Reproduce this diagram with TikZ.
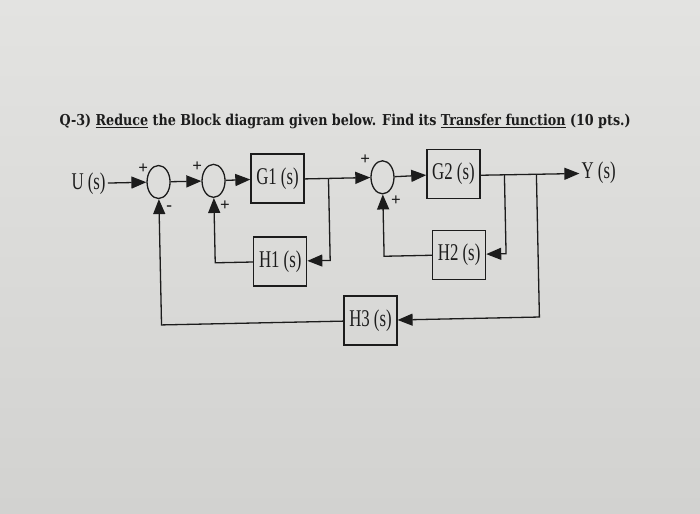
\documentclass[tikz,border=0pt]{standalone}
\usepackage{fontspec}
\setmainfont{Liberation Serif}
\newfontfamily\titlefont{DejaVu Serif}
\usetikzlibrary{arrows.meta, positioning, shapes.geometric}
\definecolor{bpaper}{HTML}{E3E3E1}
\definecolor{bpaperlow}{HTML}{D2D2D0}
\definecolor{bink}{HTML}{1C1C1C}
\newcommand{\blbl}[1]{\scalebox{0.7}[1]{#1}}
\tikzset{
  blk/.style={draw=bink, line width=1.3pt, minimum width=53pt, minimum height=49pt,
              inner sep=0pt, font=\fontsize{24}{24}\selectfont, text=bink},
  sumj/.style={draw=bink, line width=1.3pt, ellipse, minimum width=23pt,
               minimum height=33pt, inner sep=0pt},
  sgn/.style={font=\fontsize{17}{17}\selectfont\bfseries, text=bink, inner sep=0pt},
  sig/.style={font=\fontsize{24}{24}\selectfont, text=bink, inner sep=2pt},
  arr/.style={-{Triangle[length=15pt,width=12pt]}, line width=1.3pt, bink},
  wire/.style={line width=1.3pt, bink},
}

\begin{document}
\begin{tikzpicture}[x=1pt, y=-1pt]
  \shade[top color=bpaper, bottom color=bpaperlow] (0,0) rectangle (700,513);
  \useasboundingbox (0,0) rectangle (700,513);
  \begin{scope}[rotate around={1.2:(350,250)}]
    \node[anchor=base west, inner sep=0pt, text=bink] (title) at (62,119)
      {\resizebox{571pt}{!}{\scalebox{1}[1.18]{\titlefont\bfseries Q-3) \underline{Reduce} the Block diagram given below. Find its \underline{Transfer function} (10 pts.)}}};

    % forward path
    \node[sig] (u) at (90,178) {\blbl{U (s)}};
    \node[sumj] (s1) at (160,178) {};
    \node[sumj] (s2) at (215,178) {};
    \node[blk] (g1) at (279,177) {\blbl{G1 (s)}};
    \node[sumj] (s3) at (384,178) {};
    \node[blk] (g2) at (455,176) {\blbl{G2 (s)}};
    \node[sig, anchor=west] (y) at (581,178) {\blbl{Y (s)}};

    % feedback blocks
    \node[blk] (h1) at (280,260) {\blbl{H1 (s)}};
    \node[blk] (h2) at (459,257) {\blbl{H2 (s)}};
    \node[blk] (h3) at (369,321) {\blbl{H3 (s)}};

    % signs
    \node[sgn] (p1a) at (145,164) {+};
    \node[sgn] (p1b) at (170,204) {-};
    \node[sgn] (p2a) at (199,164) {+};
    \node[sgn] (p2b) at (226,203) {+};
    \node[sgn] (p3a) at (367,160) {+};
    \node[sgn] (p3b) at (397,202) {+};

    \coordinate (t1) at (330,178);
    \coordinate (t2) at (506,178);
    \coordinate (t3) at (538,178);

    \draw[arr] (u) -- (s1);
    \draw[arr] (s1) -- (s2);
    \draw[arr] (s2) -- (g1);
    \draw[wire] (g1.east |- t1) -- (t1);
    \draw[arr] (t1) -- (s3);
    \draw[arr] (s3) -- (g2);
    \draw[arr] (g2.east |- t2) -- (y);

    \draw[arr] (t1) |- (h1);
    \draw[arr] (t2) |- (h2);
    \draw[arr] (t3) |- (h3);
    \draw[arr] (h1) -| (s2);
    \draw[arr] (h2) -| (s3);
    \draw[arr] (h3) -| (s1);
  \end{scope}
\end{tikzpicture}
\end{document}
